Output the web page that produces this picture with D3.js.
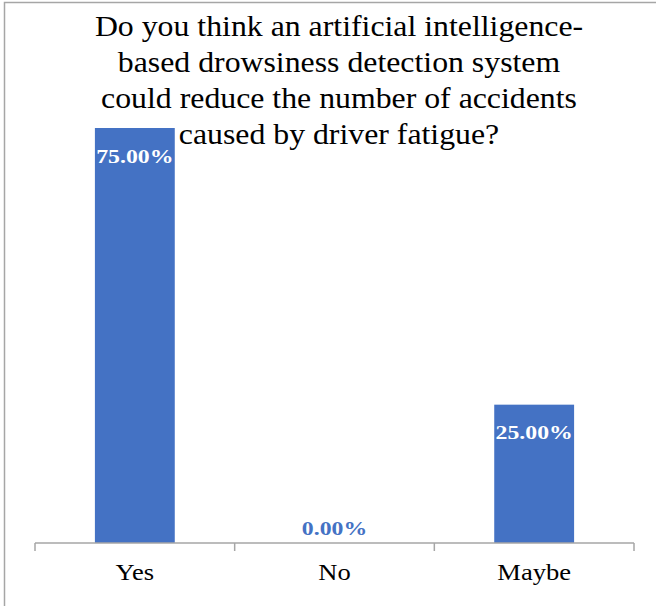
<!DOCTYPE html>
<html><head><meta charset="utf-8">
<script src="https://cdn.jsdelivr.net/npm/d3@7"></script>
<style>body{margin:0;background:#fff;} svg{display:block;} text{font-family:"Liberation Serif","Times New Roman",Times,serif;}</style>
</head><body><svg id="c" width="656" height="606"></svg>
<script>
const categories = ["Yes", "No", "Maybe"];
const values = [0.75, 0.00, 0.25];
const valueLabels = ["75.00%", "0.00%", "25.00%"];
const titleLines = ["Do you think an artificial intelligence-", "based drowsiness detection system", "could reduce the number of accidents", "caused by driver fatigue?"];

const svg = d3.select("#c");
// border
svg.append("rect").attr("x", 4.5).attr("y", 2.5).attr("width", 700).attr("height", 700)
  .attr("fill", "none").attr("stroke", "#a6a6a6").attr("stroke-width", 1.5);

const x = d3.scaleBand().domain(categories).range([35, 634]).paddingInner(0.6).paddingOuter(0.3);
const y = d3.scaleLinear().domain([0, 0.75]).range([543, 128]);

svg.selectAll("rect.bar").data(values).join("rect").attr("class", "bar")
  .attr("x", (d, i) => x(categories[i])).attr("width", x.bandwidth())
  .attr("y", d => y(d)).attr("height", d => y(0) - y(d)).attr("fill", "#4472c4");

// axis
const xAxis = d3.axisBottom(x).tickSize(0).tickFormat("");
const gAx = svg.append("g").attr("transform", `translate(0,${y(0)})`).call(xAxis);
gAx.select(".domain").attr("stroke", "#a6a6a6").attr("stroke-width", 1.5).attr("d", "M35,0H634");
const edges = d3.range(categories.length + 1).map(i => 35 + i * (599 / 3));
gAx.selectAll("line.edge").data(edges).join("line").attr("class", "edge")
  .attr("x1", d => d).attr("x2", d => d).attr("y1", 0).attr("y2", 8)
  .attr("stroke", "#a6a6a6").attr("stroke-width", 1.5);

svg.selectAll("text.cat").data(categories).join("text").attr("class", "cat")
  .attr("transform", d => `translate(${x(d) + x.bandwidth() / 2},580) scale(1.18,1)`)
  .attr("text-anchor", "middle").attr("font-size", 22.5).attr("fill", "#000")
  .text(d => d);

// value labels
svg.selectAll("text.val").data(values).join("text").attr("class", "val")
  .attr("transform", (d, i) => `translate(${x(categories[i]) + x.bandwidth() / 2},${d > 0 ? y(d) + 34.5 : y(0) - 8}) scale(1.22,1)`)
  .attr("text-anchor", "middle").attr("font-weight", "bold").attr("font-size", 19.5)
  .attr("fill", d => d > 0 ? "#fff" : "#4472c4")
  .text((d, i) => valueLabels[i]);

// title
svg.selectAll("text.title").data(titleLines).join("text").attr("class", "title")
  .attr("transform", (d, i) => `translate(339,${36 + i * 36}) scale(1.06,1)`)
  .attr("text-anchor", "middle").attr("font-size", 30).attr("fill", "#000")
  .text(d => d);
</script></body></html>
